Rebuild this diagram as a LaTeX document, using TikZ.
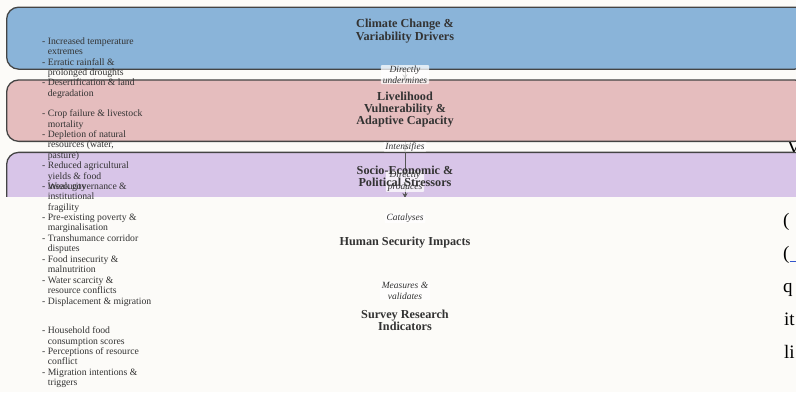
\documentclass[tikz,border=0pt]{standalone}
\usepackage{fontspec}
\setmainfont{Liberation Serif}
\usetikzlibrary{arrows.meta, positioning}

\definecolor{pagebg}{HTML}{FCFBF8}
\definecolor{climfill}{HTML}{8AB4D9}
\definecolor{livfill}{HTML}{E5BDBE}
\definecolor{socfill}{HTML}{D8C5E8}
\definecolor{inkgray}{HTML}{333333}
\definecolor{edgegray}{HTML}{444444}
\definecolor{linkgray}{HTML}{555555}
\definecolor{linkblue}{HTML}{3355CC}

\newcommand{\cont}{\hphantom{- }}

\begin{document}
\begin{tikzpicture}[
    x=1pt, y=-1pt,
    band/.style={draw=edgegray, line width=1.3pt, rounded corners=12pt, minimum width=800pt, anchor=north west, inner sep=0pt},
    ttl/.style={font=\bfseries\fontsize{12.2}{12.3}\selectfont, text=inkgray, align=center, inner sep=0pt},
    lst/.style={anchor=north west, inner sep=0pt, align=left, text=inkgray, font=\fontsize{9.7}{10.4}\selectfont},
    lbl/.style={fill=white, fill opacity=0.75, text opacity=1, text=inkgray, align=center, inner xsep=2pt, inner ysep=0.5pt, rounded corners=1pt, font=\itshape\fontsize{9.5}{11.3}\selectfont},
    conn/.style={draw=linkgray, line width=0.8pt, -{Stealth[length=5pt, width=5pt]}},
    rtxt/.style={anchor=base west, inner sep=0pt, font=\fontsize{19}{22}\selectfont, text=black}
]
\useasboundingbox (0,0) rectangle (796,392);
\clip (0,0) rectangle (796,392);
\fill[pagebg] (0,0) rectangle (796,392);

% page text behind the bands
\node[rtxt] (vfrag) at (787,153) {V};
\node[rtxt] (pfrag1) at (783,226) {(};
\node[rtxt] (pfrag2) at (783,259) {(\textcolor{linkblue}{\rule[-2.5pt]{8pt}{0.7pt}}};
\node[rtxt] (qfrag) at (783,292) {q};
\node[rtxt] (itfrag) at (784,325) {it};
\node[rtxt] (lifrag) at (784,358) {li};

% bands
\node[band, fill=climfill, minimum height=62pt] (climband) at (6,6.5) {};
\node[band, fill=livfill, minimum height=61.4pt] (livband) at (6,79.3) {};
\begin{scope}
    \clip (0,0) rectangle (796,196);
    \node[band, fill=socfill, minimum height=60pt] (socband) at (6,151.7) {};
    \coordinate (socfoot) at (405,198);
    \draw[conn] (405,151.7) -- (socfoot) node[lbl, pos=0.64] (prodlbl) {Directly\\produces};
\end{scope}

% titles
\node[ttl] (clim) at (405,31) {Climate Change \&\\Variability Drivers};
\node[ttl] (liv) at (405,109.7) {Livelihood\\Vulnerability \&\\Adaptive Capacity};
\node[ttl] (soc) at (405,176) {Socio-Economic \&\\Political Stressors};
\node[ttl] (hum) at (405,242.3) {Human Security Impacts};
\node[ttl] (surv) at (405,320.5) {Survey Research\\Indicators};

% connectors
\draw[conn] (climband.south -| clim) -- (livband.north -| clim) node[lbl, midway] (undlbl) {Directly\\undermines};
\draw[conn] (livband.south -| liv) -- (socband.north -| soc) node[lbl, midway] (intlbl) {Intensifies};
\node[lbl] (catlbl) at (405,218.3) {Catalyses};
\node[lbl] (measlbl) at (405,290.8) {Measures \&\\validates};

% lists
\node[lst] (climlist) at (42,37.3) {- Increased temperature\\\cont extremes\\- Erratic rainfall \&\\\cont prolonged droughts\\- Desertification \& land\\\cont degradation};
\node[lst] (livlist) at (42,109.6) {- Crop failure \& livestock\\\cont mortality\\- Depletion of natural\\\cont resources (water,\\\cont pasture)\\- Reduced agricultural\\\cont yields \& food\\\cont insecurity};
\node[lst] (soclist) at (42,182.3) {- Weak governance \&\\\cont institutional\\\cont fragility\\- Pre-existing poverty \&\\\cont marginalisation\\- Transhumance corridor\\\cont disputes};
\node[lst] (humlist) at (42,255.6) {- Food insecurity \&\\\cont malnutrition\\- Water scarcity \&\\\cont resource conflicts\\- Displacement \& migration};
\node[lst] (survlist) at (42,326.6) {- Household food\\\cont consumption scores\\- Perceptions of resource\\\cont conflict\\- Migration intentions \&\\\cont triggers};
\end{tikzpicture}
\end{document}
